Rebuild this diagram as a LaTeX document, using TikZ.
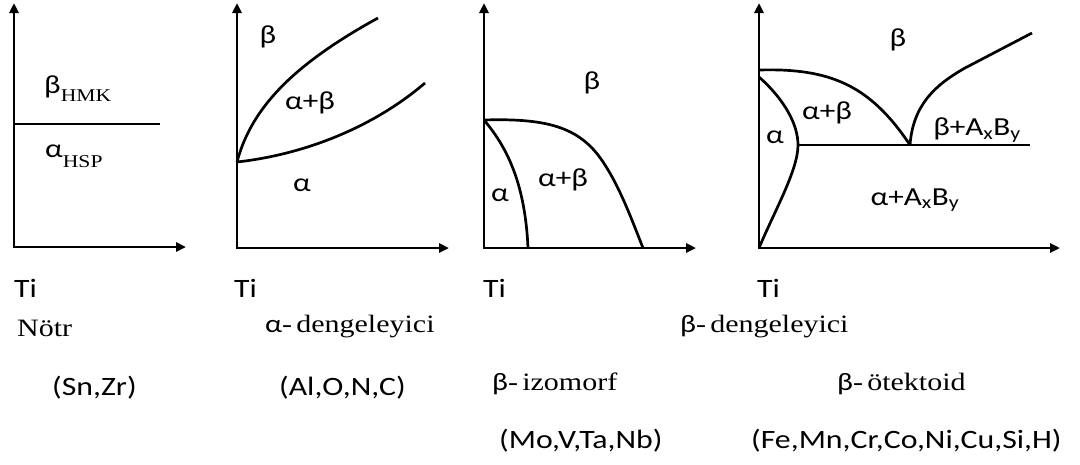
\documentclass[tikz,border=0pt]{standalone}
\usepackage{fontspec}
\setmainfont[FakeStretch=1.2]{Liberation Serif}
\newfontfamily\calf[FakeStretch=1.2]{Carlito}
\usetikzlibrary{arrows.meta}
\begin{document}
\begin{tikzpicture}[x=1pt,y=-1pt,
  axis/.style={line width=2.7pt,line join=miter,{Triangle[length=10pt,width=9pt]}-{Triangle[length=10pt,width=9pt]}},
  curve/.style={line width=2.7pt},
  lab/.style={font=\calf\fontsize{26}{26}\selectfont,inner sep=0pt},
  ser/.style={font=\fontsize{25}{25}\selectfont,inner sep=0pt,anchor=base west},
  sans/.style={font=\calf\fontsize{26.5}{26.5}\selectfont,inner sep=0pt,anchor=base west}]
\useasboundingbox (0,0) rectangle (1080,464);
% ---------- panel 1 ----------
\coordinate (o1) at (14,247);
\coordinate (t1) at (14,3);
\coordinate (r1) at (186,247);
\draw[axis] (t1) -- (o1) -- (r1);
\coordinate (h1a) at (14,124);
\coordinate (h1b) at (160,124);
\draw[curve] (h1a) -- (h1b);
\node[lab,anchor=base west] (bhmk) at (44,93) {β\raisebox{-8pt}{\fontsize{18}{18}\rmfamily HMK}};
\node[lab,anchor=base west] (ahsp) at (45,157) {α\raisebox{-10pt}{\fontsize{18}{18}\rmfamily HSP}};
% ---------- panel 2 ----------
\coordinate (o2) at (237,248);
\coordinate (t2) at (237,3);
\coordinate (r2) at (449,248);
\draw[axis] (t2) -- (o2) -- (r2);
\coordinate (p2) at (237,162);
\coordinate (u2) at (378,18);
\coordinate (l2) at (425,83);
\draw[curve] (p2) .. controls (252,105) and (298,62) .. (u2);
\draw[curve] (p2) .. controls (300,155) and (370,130) .. (l2);
\node[lab] (b2) at (268,37) {β};
\node[lab] (ab2) at (310,103) {α+β};
\node[lab] (a2) at (302,185) {α};
% ---------- panel 3 ----------
\coordinate (o3) at (484,248);
\coordinate (t3) at (484,3);
\coordinate (r3) at (696,248);
\draw[axis] (t3) -- (o3) -- (r3);
\coordinate (p3) at (484,120);
\coordinate (m3) at (605,165);
\coordinate (e3) at (643,248);
\coordinate (f3) at (528,248);
\draw[curve] (p3) .. controls (550,118) and (582,128) .. (m3) .. controls (620,188) and (632,220) .. (e3);
\draw[curve] (p3) .. controls (505,145) and (525,180) .. (f3);
\node[lab] (b3) at (592,83) {β};
\node[lab] (ab3) at (563,180) {α+β};
\node[lab] (a3) at (500,195) {α};
% ---------- panel 4 ----------
\coordinate (o4) at (759,248);
\coordinate (t4) at (759,3);
\coordinate (r4) at (1060,248);
\draw[axis] (t4) -- (o4) -- (r4);
\coordinate (p4) at (759,70);
\coordinate (e4) at (910,145);
\coordinate (k4) at (965,68);
\coordinate (u4) at (1032,33);
\coordinate (s4) at (759,77);
\coordinate (n4) at (798,145);
\coordinate (h4) at (1030,145);
\draw[curve] (p4) .. controls (830,68) and (870,85) .. (e4);
\draw[curve] (e4) .. controls (913,105) and (935,85) .. (k4) -- (u4);
\draw[curve] (n4) -- (h4);
\draw[curve] (s4) .. controls (785,100) and (798,125) .. (n4) .. controls (798,170) and (775,210) .. (o4);
\node[lab] (b4) at (898,40) {β};
\node[lab] (ab4) at (827,113) {α+β};
\node[lab] (a4) at (775,137) {α};
\node[lab] (bx4) at (977,130) {β+A\textsubscript{x}B\textsubscript{y}};
\node[lab] (ax4) at (915,200) {α+A\textsubscript{x}B\textsubscript{y}};
% ---------- bottom texts ----------
\node[sans] (ti1) at (14,297) {Ti};
\node[sans] (ti2) at (234,297) {Ti};
\node[sans] (ti3) at (483,297) {Ti};
\node[sans] (ti4) at (757,297) {Ti};
\node[ser] (notr) at (17,336) {Nötr};
\node[ser] (ad) at (265,332) {{\calf α}-\,dengeleyici};
\node[ser] (bd) at (680,332) {{\calf β}-\,dengeleyici};
\node[sans] (snzr) at (52,395) {(Sn,Zr)};
\node[sans] (alon) at (279,395) {(Al,O,N,C)};
\node[ser] (biz) at (492,390) {{\calf β}-\,izomorf};
\node[ser] (bot) at (837,390) {{\calf β}-\,ötektoid};
\node[sans] (mov) at (499,448) {(Mo,V,Ta,Nb)};
\node[sans] (femn) at (751,448) {(Fe,Mn,Cr,Co,Ni,Cu,Si,H)};
\end{tikzpicture}
\end{document}
